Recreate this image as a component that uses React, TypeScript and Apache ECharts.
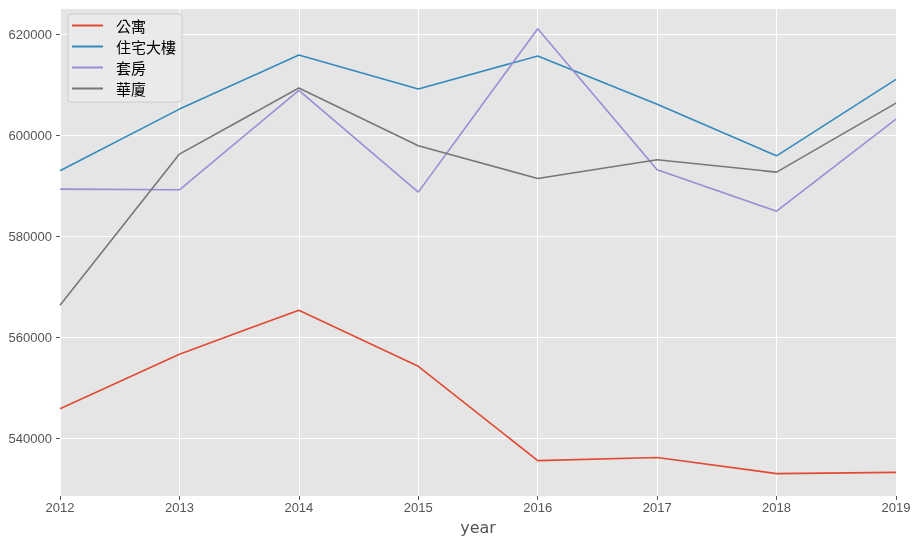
import React, { useEffect, useRef } from "react";
import * as echarts from "echarts";

const years = [2012, 2013, 2014, 2015, 2016, 2017, 2018, 2019];
const seriesNames = ["公寓", "住宅大樓", "套房", "華廈"];
const apartment = [545900, 556700, 565400, 554300, 535650, 536250, 533080, 533330];
const residentialTower = [592950, 605160, 615850, 609120, 615650, 606100, 595920, 611040];
const studio = [589330, 589200, 608860, 588740, 621050, 593150, 584980, 603180];
const mansion = [566380, 596260, 609320, 597900, 591450, 595130, 592700, 606350];
const colors = ["#E24A33", "#348ABD", "#988ED5", "#777777"];

const CJK = "'Noto Sans CJK TC', 'Noto Sans', sans-serif";
const NUM = "'Liberation Sans', 'Noto Sans', sans-serif";

export default function App() {
  const ref = useRef<HTMLDivElement>(null);
  useEffect(() => {
    if (!ref.current) return;
    const chart = echarts.init(ref.current, undefined, { renderer: "svg" });
    const allData = [apartment, residentialTower, studio, mansion];
    chart.setOption({
      animation: false,
      textStyle: { fontFamily: CJK },
      grid: {
        left: 60,
        right: 22,
        top: 8,
        bottom: 44,
        show: true,
        backgroundColor: "#E5E5E5",
        borderWidth: 0,
        containLabel: false,
        outerBoundsMode: "none",
      },
      legend: {
        orient: "vertical",
        left: 68,
        top: 14,
        padding: [4, 6, 6, 4],
        itemWidth: 31,
        itemHeight: 14,
        itemGap: 6,
        icon: "path://M0,0 H31 V2 H0 Z",
        backgroundColor: "rgba(234,234,234,0.95)",
        borderColor: "#CCCCCC",
        borderWidth: 1,
        borderRadius: 3,
        textStyle: { fontSize: 15, color: "#000", fontFamily: CJK, padding: [0, 0, 0, 8] },
        data: seriesNames,
      },
      xAxis: {
        type: "value",
        min: 2012,
        max: 2019,
        interval: 1,
        name: "year",
        nameLocation: "middle",
        nameGap: 23,
        nameTextStyle: { fontSize: 16, color: "#555555", fontFamily: "'DejaVu Sans', sans-serif" },
        axisLine: { show: false },
        axisTick: { show: true, length: 4, lineStyle: { color: "#555555", width: 1 } },
        axisLabel: { color: "#555555", fontSize: 13, margin: 5, fontFamily: NUM, formatter: (v: number) => String(v) },
        splitLine: { show: true, lineStyle: { color: "#FFFFFF", width: 1 } },
      },
      yAxis: {
        type: "value",
        min: 528650,
        max: 625150,
        splitNumber: 5,
        axisLine: { show: false },
        axisTick: { show: true, length: 4, lineStyle: { color: "#555555", width: 1 } },
        axisLabel: {
          color: "#555555",
          fontSize: 13,
          margin: 8,
          fontFamily: NUM,
          showMinLabel: false,
          showMaxLabel: false,
          formatter: (v: number) => String(v),
        },
        splitLine: { show: true, lineStyle: { color: "#FFFFFF", width: 1 } },
      },
      series: seriesNames.map((name, i) => ({
        name,
        type: "line",
        symbol: "none",
        data: years.map((y, j) => [y, allData[i][j]]),
        lineStyle: { color: colors[i], width: 1.6 },
        itemStyle: { color: colors[i] },
      })),
    });
    return () => chart.dispose();
  }, []);
  return <div ref={ref} style={{ position: "fixed", left: 0, top: 0, width: 918, height: 540 }} />;
}
